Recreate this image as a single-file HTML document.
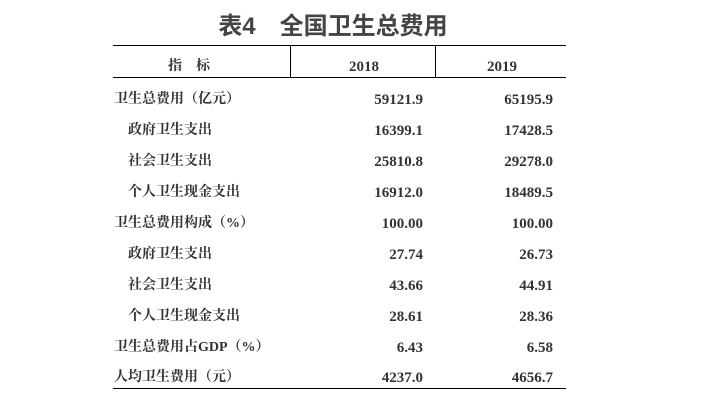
<!DOCTYPE html>
<html><head><meta charset="utf-8"><style>
body{margin:0;width:703px;height:414px;background:#fff;position:relative;overflow:hidden;color:#333;font-family:"Liberation Serif","Noto Serif CJK SC",serif;}
.t{position:absolute;left:0;width:666px;text-align:center;top:12px;font-size:24px;font-weight:bold;color:#444;font-family:"Liberation Sans","Noto Sans CJK SC",sans-serif;line-height:30px;}
.l{position:absolute;left:113px;width:453px;height:0;border-top:1px solid #000;}
.v{position:absolute;width:0;border-left:1px solid #000;top:45px;height:32px;}
.r{position:absolute;font-size:14px;font-weight:bold;line-height:20px;white-space:nowrap;}
.n{position:absolute;font-size:15px;font-weight:bold;line-height:20px;text-align:right;width:100px;}
</style></head><body>
<div class="t">表4　全国卫生总费用</div>
<div class="l" style="top:45px"></div>
<div class="l" style="top:77px"></div>
<div class="l" style="top:388px;border-top-width:1.5px"></div>
<div class="v" style="left:290px"></div>
<div class="v" style="left:435px"></div>
<div class="r" style="left:168px;top:57px">指　标</div>
<div class="n" style="left:280px;width:168px;text-align:center;top:57px">2018</div>
<div class="n" style="left:418px;width:168px;text-align:center;top:57px">2019</div>

<div class="r" style="left:114px;top:90px">卫生总费用（亿元）</div><div class="n" style="left:323px;top:90px">59121.9</div><div class="n" style="left:453px;top:90px">65195.9</div>
<div class="r" style="left:128px;top:121px">政府卫生支出</div><div class="n" style="left:323px;top:121px">16399.1</div><div class="n" style="left:453px;top:121px">17428.5</div>
<div class="r" style="left:128px;top:152px">社会卫生支出</div><div class="n" style="left:323px;top:152px">25810.8</div><div class="n" style="left:453px;top:152px">29278.0</div>
<div class="r" style="left:128px;top:183px">个人卫生现金支出</div><div class="n" style="left:323px;top:183px">16912.0</div><div class="n" style="left:453px;top:183px">18489.5</div>
<div class="r" style="left:114px;top:214px">卫生总费用构成（%）</div><div class="n" style="left:323px;top:214px">100.00</div><div class="n" style="left:453px;top:214px">100.00</div>
<div class="r" style="left:128px;top:245px">政府卫生支出</div><div class="n" style="left:323px;top:245px">27.74</div><div class="n" style="left:453px;top:245px">26.73</div>
<div class="r" style="left:128px;top:276px">社会卫生支出</div><div class="n" style="left:323px;top:276px">43.66</div><div class="n" style="left:453px;top:276px">44.91</div>
<div class="r" style="left:128px;top:307px">个人卫生现金支出</div><div class="n" style="left:323px;top:307px">28.61</div><div class="n" style="left:453px;top:307px">28.36</div>
<div class="r" style="left:114px;top:338px">卫生总费用占GDP（%）</div><div class="n" style="left:323px;top:338px">6.43</div><div class="n" style="left:453px;top:338px">6.58</div>
<div class="r" style="left:114px;top:368px">人均卫生费用（元）</div><div class="n" style="left:323px;top:368px">4237.0</div><div class="n" style="left:453px;top:368px">4656.7</div>
</body></html>
